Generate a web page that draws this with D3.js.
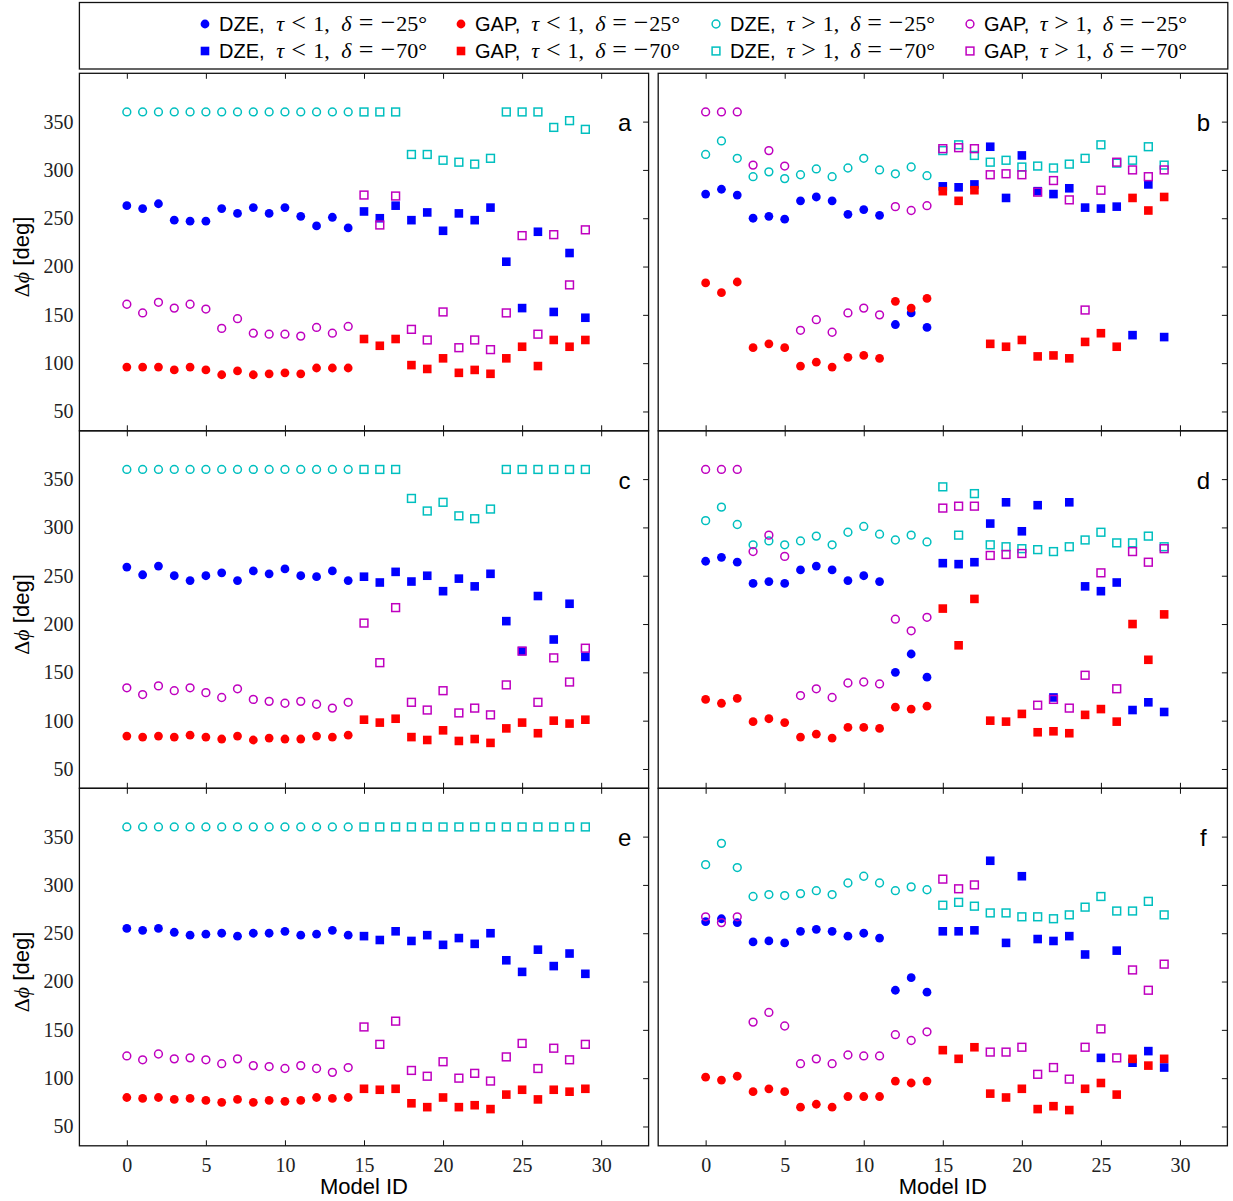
<!DOCTYPE html>
<html>
<head>
<meta charset="utf-8">
<script src="https://cdn.jsdelivr.net/npm/d3@7"></script>
<style>
  body { margin: 0; background: #fff; }
  svg { display: block; }
</style>
</head>
<body>
<svg id="chart" width="1233" height="1201"></svg>
<script>
// ---- data -------------------------------------------------------------
// Model IDs 0-14 use delta = -25 deg, IDs 15-29 use delta = -70 deg.
const modelIds = d3.range(30);
const xTicks = [0, 5, 10, 15, 20, 25, 30];
const yTicks = [50, 100, 150, 200, 250, 300, 350];
const panelLabels = ["a", "b", "c", "d", "e", "f"];

// Panel a
const dzeThinA  = [263,260,265,248,247,247,260,255,261,255,261,252,242,251,240, 257,250,263,248,256,237,255,248,261,205,157,236,153,214,147];
const gapThinA  = [96,96,96,93,96,93,88,92,88,89,90,89,95,95,95, 125,118,125,98,94,105,90,93,89,105,117,97,124,117,124];
const dzeThickA = [360,360,360,360,360,360,360,360,360,360,360,360,360,360,360, 360,360,360,316,316,310,308,306,312,360,360,360,344,351,342];
const gapThickA = [161,152,163,157,161,156,136,146,131,130,130,128,137,131,138, 274,243,273,135,124,153,116,124,114,152,232,130,233,181,238];

// Panel b
const dzeThinB  = [275,280,274,250,252,249,268,272,268,254,259,253,140,152,137, 283,282,285,324,271,315,278,275,281,261,260,262,129,285,127];
const gapThinB  = [183,173,184,116,120,116,97,101,96,106,108,105,164,157,167, 278,268,279,120,117,124,107,108,105,122,131,117,271,258,272];
const dzeThickB = [316,330,312,293,298,291,295,301,293,302,312,300,296,303,294, 320,326,315,308,310,303,304,302,306,312,326,307,310,324,305];
const gapThickB = [360,360,360,305,320,304,134,145,132,152,157,150,262,258,263, 322,323,322,295,296,295,277,289,269,155,279,308,300,293,300];

// Panel c
const dzeThinC  = [259,251,260,250,245,250,253,245,255,252,257,250,249,255,245, 249,243,254,244,250,234,247,239,252,203,172,229,184,221,166];
const gapThinC  = [84,83,84,83,85,83,81,84,80,82,81,81,84,83,85, 101,98,102,83,80,90,79,81,77,92,98,87,100,97,101];
const dzeThickC = [360,360,360,360,360,360,360,360,360,360,360,360,360,360,360, 360,360,360,330,317,326,312,309,319,360,360,360,360,360,360];
const gapThickC = [134,127,136,131,134,129,124,133,122,120,118,120,117,113,119, 201,160,217,119,111,131,108,113,106,137,172,119,165,140,175];

// Panel d
const dzeThinD  = [265,269,264,242,244,242,256,260,256,245,250,244,150,169,145, 263,262,264,304,326,296,323,124,326,239,234,243,111,119,109];
const gapThinD  = [122,118,123,99,102,98,83,86,82,93,93,92,114,112,115, 216,178,226,100,99,107,88,89,87,106,112,99,200,163,210];
const dzeThickD = [307,321,303,282,286,282,286,291,282,295,301,293,287,292,285, 342,292,335,282,280,278,277,275,280,287,295,284,284,291,280];
const gapThickD = [360,360,360,275,292,270,126,133,124,139,140,138,205,193,207, 320,322,322,271,272,273,116,122,113,147,253,133,275,264,278];

// Panel e
const dzeThinE  = [255,253,255,251,248,249,250,247,250,250,252,248,249,253,248, 247,243,252,242,248,238,245,239,250,222,210,233,216,229,208];
const gapThinE  = [80,79,80,78,79,77,75,78,75,77,76,77,80,79,80, 89,88,89,74,70,80,70,72,68,83,88,78,88,86,89];
const dzeThickE = [360,360,360,360,360,360,360,360,360,360,360,360,360,360,360, 360,360,360,360,360,360,360,360,360,360,360,360,360,360,360];
const gapThickE = [123,119,125,120,121,119,115,120,113,112,110,113,110,106,111, 153,135,159,108,102,117,100,105,97,122,136,110,131,119,135];

// Panel f
const dzeThinF  = [262,265,261,241,242,240,252,254,252,247,250,245,191,204,189, 252,252,253,325,240,309,244,242,247,228,121,232,116,128,111];
const gapThinF  = [101,98,102,86,89,86,70,73,70,81,81,81,97,95,97, 129,120,132,84,80,89,68,71,67,89,95,83,120,113,120];
const dzeThickF = [321,343,318,288,290,289,291,294,290,302,309,302,294,298,295, 279,282,278,271,271,267,267,265,269,277,288,273,273,283,269];
const gapThickF = [267,261,267,158,168,154,115,120,115,124,123,123,145,139,148, 306,296,300,127,127,132,104,111,99,132,151,121,212,191,218];

const panelData = [
  [dzeThinA, gapThinA, dzeThickA, gapThickA],
  [dzeThinB, gapThinB, dzeThickB, gapThickB],
  [dzeThinC, gapThinC, dzeThickC, gapThickC],
  [dzeThinD, gapThinD, dzeThickD, gapThickD],
  [dzeThinE, gapThinE, dzeThickE, gapThickE],
  [dzeThinF, gapThinF, dzeThickF, gapThickF]
];

// ---- style ------------------------------------------------------------
const seriesColors = ["#0000ff", "#ff0000", "#00bfbf", "#bf00bf"]; // DZE τ<1, GAP τ<1, DZE τ>1, GAP τ>1
const seriesFilled = [true, true, false, false];
const serif = "'Liberation Serif', 'Times New Roman', serif";
const sans = "'Liberation Sans', Arial, Helvetica, sans-serif";

const svg = d3.select("#chart");

// ---- panel geometry -----------------------------------------------------
const panelW = 569.2;
const panelH = 357.5;
const colX = [79.4, 658.2];
const rowY = [73.3, 430.8, 788.3];
const tickLen = 5.5;

function drawMarker(g, x, y, color, filled, square) {
  if (square) {
    const s = filled ? 8.6 : 7.8;
    g.append("rect")
      .attr("x", x - s / 2).attr("y", y - s / 2)
      .attr("width", s).attr("height", s)
      .attr("fill", filled ? color : "none")
      .attr("stroke", filled ? "none" : color)
      .attr("stroke-width", filled ? 0 : 1.5);
  } else {
    g.append("circle")
      .attr("cx", x).attr("cy", y)
      .attr("r", filled ? 4.4 : 3.9)
      .attr("fill", filled ? color : "none")
      .attr("stroke", filled ? "none" : color)
      .attr("stroke-width", filled ? 0 : 1.5);
  }
}

panelData.forEach((series, p) => {
  const col = p % 2, row = Math.floor(p / 2);
  const x0 = colX[col], y0 = rowY[row];
  const x = d3.scaleLinear().domain([-3, 33]).range([x0, x0 + panelW]);
  const y = d3.scaleLinear().domain([30, 400]).range([y0 + panelH, y0]);
  const g = svg.append("g").attr("class", "panel-" + panelLabels[p]);

  // markers: each series in plot order, delta=-25 (circles) then delta=-70 (squares)
  const marks = g.append("g");
  series.forEach((vals, s) => {
    [false, true].forEach(square => {
      modelIds.forEach(id => {
        if ((id >= 15) !== square) return;
        const v = vals[id];
        if (v == null) return;
        drawMarker(marks, x(id), y(v), seriesColors[s], seriesFilled[s], square);
      });
    });
  });

  // axes with inward ticks
  const bottom = g.append("g")
    .attr("transform", `translate(0,${y0 + panelH})`)
    .call(d3.axisBottom(x).tickValues(xTicks).tickSize(-tickLen).tickPadding(12)
      .tickFormat(row === 2 ? d3.format("d") : () => ""));
  const top = g.append("g")
    .attr("transform", `translate(0,${y0})`)
    .call(d3.axisTop(x).tickValues(xTicks).tickSize(-tickLen).tickFormat(() => ""));
  const right = g.append("g")
    .attr("transform", `translate(${x0 + panelW},0)`)
    .call(d3.axisRight(y).tickValues(yTicks).tickSize(-tickLen).tickFormat(() => ""));
  const left = g.append("g")
    .attr("transform", `translate(${x0},0)`)
    .call(d3.axisLeft(y).tickValues(yTicks).tickSize(0).tickPadding(6)
      .tickFormat(col === 0 ? d3.format("d") : () => ""));

  [bottom, top, right, left].forEach(a => {
    a.select(".domain").remove();
    a.selectAll(".tick line").attr("stroke", "#111").attr("stroke-width", 1);
    a.selectAll(".tick text")
      .attr("font-family", serif).attr("font-size", 20).attr("fill", "#222");
  });

  // frame
  g.append("rect")
    .attr("x", x0).attr("y", y0).attr("width", panelW).attr("height", panelH)
    .attr("fill", "none").attr("stroke", "#111").attr("stroke-width", 1.3);

  // panel letter
  g.append("text")
    .attr("x", x0 + panelW - 24).attr("y", y0 + 58)
    .attr("text-anchor", "middle")
    .attr("font-family", sans).attr("font-size", 24).attr("fill", "#000")
    .text(panelLabels[p]);

  // y label (left column)
  if (col === 0) {
    const cy = y0 + panelH / 2 + 5;
    const t = g.append("text")
      .attr("transform", `translate(29,${cy}) rotate(-90)`)
      .attr("text-anchor", "middle").attr("fill", "#000").attr("font-size", 22);
    t.append("tspan").attr("font-family", serif).text("Δ");
    t.append("tspan").attr("font-family", serif).attr("font-style", "italic").text("ϕ");
    t.append("tspan").attr("font-family", sans).text(" [deg]");
  }

  // x label (bottom row)
  if (row === 2) {
    g.append("text")
      .attr("x", x0 + panelW / 2).attr("y", 1194)
      .attr("text-anchor", "middle")
      .attr("font-family", sans).attr("font-size", 22).attr("fill", "#000")
      .text("Model ID");
  }
});

// ---- legend -----------------------------------------------------------
svg.append("rect")
  .attr("x", 79.4).attr("y", 2.5).attr("width", 1148.4).attr("height", 66.5)
  .attr("fill", "#fff").attr("stroke", "#111").attr("stroke-width", 1.3);

const legendNames = ["DZE", "GAP", "DZE", "GAP"];
const legendTau = ["<", "<", ">", ">"];
const legendDelta = ["25", "70"];
const legendMarkX = [205, 461, 716, 970];
const legendTextWidth = [208, 205, 205, 203];
const legendRowY = [24, 51];
const lg = svg.append("g").attr("class", "legend");

// Each entry is laid out piece by piece: the text label, then the
// math part (wide relation signs) with spacing spread so the entry
// spans its column width.
legendNames.forEach((name, s) => {
  legendDelta.forEach((d, r) => {
    const mx = legendMarkX[s], my = legendRowY[r];
    drawMarker(lg, mx, my, seriesColors[s], seriesFilled[s], r === 1);
    const pieces = [
      { t: name + ",", f: sans, it: false, gap: 0, fs: 20 },
      { t: "τ", f: serif, it: true, gap: 1.6, fs: 22 },
      { t: legendTau[s], f: serif, it: false, gap: 1, fs: 26 },
      { t: "1,", f: serif, it: false, gap: 1, fs: 22 },
      { t: "δ", f: serif, it: true, gap: 1.6, fs: 22 },
      { t: "=", f: serif, it: false, gap: 1, fs: 26 },
      { t: "−", f: serif, it: false, gap: 1, fs: 26 },
      { t: d + "°", f: serif, it: false, gap: 0.1, fs: 22 }
    ];
    const nodes = pieces.map(pc => lg.append("text")
      .attr("y", my + 7)
      .attr("font-family", pc.f)
      .attr("font-style", pc.it ? "italic" : "normal")
      .attr("font-size", pc.fs)
      .attr("fill", "#000")
      .text(pc.t));
    const widths = nodes.map(n => n.node().getComputedTextLength());
    const gapUnits = d3.sum(pieces, pc => pc.gap);
    const spare = legendTextWidth[s] - d3.sum(widths);
    const unit = spare / gapUnits;
    let cx = mx + 14;
    nodes.forEach((n, i) => {
      cx += pieces[i].gap * unit;
      n.attr("x", cx);
      cx += widths[i];
    });
  });
});
</script>
</body>
</html>
